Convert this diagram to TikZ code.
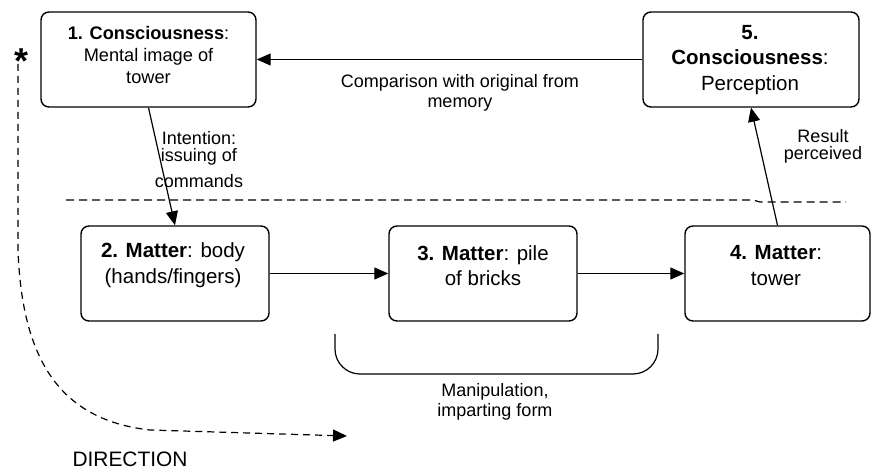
\documentclass[tikz,border=0pt]{standalone}
\usepackage{fontspec}
\setmainfont{Liberation Sans}
\usetikzlibrary{arrows.meta,positioning}

\tikzset{
  box/.style={draw, line width=1.4pt, rounded corners=8pt, inner sep=0pt, minimum height=95pt},
  arr/.style={line width=1.2pt, -{Triangle[length=14pt,width=12pt]}},
  small/.style={align=center, font=\fontsize{18.2}{22}\selectfont},
  big/.style={align=center, font=\fontsize{20.5}{25.5}\selectfont},
  lbl/.style={align=center, font=\fontsize{18}{17}\selectfont}
}

\begin{document}
\begin{tikzpicture}[x=1pt,y=-1pt]

\useasboundingbox (0,0) rectangle (871,470);

\node [box, minimum width=215pt] (b1) at (148.5,59.5) {};
\node [box, minimum width=216pt] (b5) at (751,59.5) {};
\node [box, minimum width=188pt] (b2) at (175,273.5) {};
\node [box, minimum width=188pt] (b3) at (483,273.5) {};
\node [box, minimum width=185pt] (b4) at (777.5,273.5) {};

\node [small] (t1) at (148.5,55) {\textbf{1. Consciousness}:\\Mental image of\\tower};
\node [big] (t5) at (750,60) {\textbf{5.}\\\textbf{Consciousness}:\\Perception};
\node [big] (t2) at (173,265) {\textbf{2. Matter}: body\\(hands/fingers)};
\node [big] (t3) at (483,265.5) {\textbf{3. Matter}: pile\\of bricks};
\node [big] (t4) at (776,265.5) {\textbf{4. Matter}:\\tower};

\draw [arr] (b5.west) -- (b1.east);
\draw [arr] (b1.south) -- (b2.north);
\draw [arr] (b4.north) -- (b5.south);
\draw [arr] (b2.east) -- (b3.west);
\draw [arr] (b3.east) -- (b4.west);

\node [lbl, font=\fontsize{18}{20}\selectfont] (compare) at (460,93) {Comparison with original from\\memory};
\node [lbl] (intent) at (199,160) {Intention:\\issuing of\\[9pt]commands};
\node [lbl] (result) at (823,146.5) {Result\\perceived};
\node [lbl, font=\fontsize{18}{20}\selectfont] (manip) at (495,402) {Manipulation,\\imparting form};

\draw [line width=1.2pt, dash pattern=on 8pt off 5pt] (66,200) -- (753,200) -- (760,202) -- (846,202);

\draw [line width=1.2pt, rounded corners=25pt] (335,334) -- (335,374) -- (658,374) -- (658,334);

\node [font=\bfseries\fontsize{36}{36}\selectfont] (star) at (22,61) {*};
\coordinate (dirend) at (347,436);
\draw [line width=1.2pt, dash pattern=on 7pt off 5pt, -{Triangle[length=14pt,width=12pt]}]
  (18,64) -- (18,250) .. controls (22,360) and (60,420) .. (150,430) -- (dirend);
\node [anchor=west, font=\fontsize{20.9}{24}\selectfont] (direction) at (69,459) {DIRECTION};

\end{tikzpicture}
\end{document}
